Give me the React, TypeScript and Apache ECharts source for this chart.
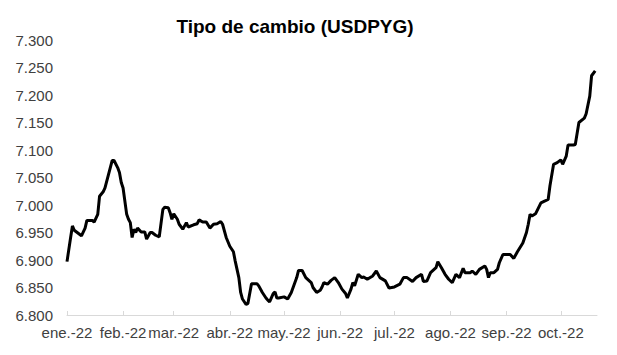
import React, { useEffect, useRef } from "react";
import * as echarts from "echarts";

// Days since 1 Jan 2022 and USD/PYG exchange rate (thousands of guaraníes)
const dayOfYear = [
  0, 2, 3, 4, 6, 8, 10, 11, 14, 15, 17, 18, 20, 21, 23, 25, 26, 28, 29, 30,
  31, 33, 34, 35, 36, 37, 38, 39, 41, 43, 44, 46, 47, 49, 51, 53, 54, 56, 57, 58,
  59, 61, 62, 64, 66, 67, 70, 72, 73, 75, 77, 79, 81, 83, 85, 86, 88, 90, 92, 93,
  95, 96, 97, 99, 100, 102, 105, 106, 108, 110, 111, 112, 114, 115, 116, 117, 120, 122, 124, 126,
  127, 128, 130, 132, 135, 136, 138, 140, 141, 142, 144, 146, 148, 150, 152, 154, 155, 157, 158, 159,
  161, 163, 164, 166, 169, 171, 173, 176, 178, 181, 184, 186, 188, 191, 193, 196, 197, 199, 201, 204,
  205, 207, 209, 211, 213, 215, 217, 219, 220, 223, 224, 226, 228, 231, 232, 233, 234, 236, 238, 239,
  241, 243, 245, 247, 249, 252, 254, 255, 256, 257, 259, 262, 264, 266, 267, 269, 271, 273, 274, 276,
  277, 280, 281, 283, 286, 287, 289, 290, 292,
];

const usdPyg = [
  6.897, 6.941, 6.962, 6.954, 6.949, 6.944, 6.958, 6.972, 6.972, 6.969, 6.983, 7.016, 7.024, 7.031, 7.056, 7.081, 7.081, 7.068, 7.059, 7.041,
  7.031, 6.983, 6.974, 6.968, 6.941, 6.956, 6.95, 6.958, 6.951, 6.951, 6.938, 6.95, 6.95, 6.945, 6.942, 6.992, 6.996, 6.995, 6.986, 6.974,
  6.984, 6.974, 6.965, 6.956, 6.968, 6.96, 6.964, 6.966, 6.973, 6.969, 6.969, 6.958, 6.965, 6.966, 6.97, 6.965, 6.941, 6.925, 6.915, 6.898,
  6.868, 6.841, 6.829, 6.819, 6.821, 6.857, 6.857, 6.853, 6.841, 6.831, 6.827, 6.824, 6.839, 6.842, 6.831, 6.831, 6.833, 6.829, 6.841, 6.859,
  6.868, 6.881, 6.881, 6.868, 6.859, 6.85, 6.841, 6.845, 6.851, 6.859, 6.856, 6.863, 6.868, 6.859, 6.847, 6.839, 6.831, 6.847, 6.859, 6.853,
  6.874, 6.868, 6.869, 6.865, 6.871, 6.88, 6.868, 6.862, 6.849, 6.851, 6.856, 6.868, 6.868, 6.861, 6.868, 6.874, 6.861, 6.862, 6.877, 6.886,
  6.897, 6.886, 6.874, 6.865, 6.859, 6.874, 6.868, 6.885, 6.877, 6.877, 6.88, 6.874, 6.883, 6.889, 6.883, 6.868, 6.877, 6.877, 6.883, 6.895,
  6.91, 6.91, 6.91, 6.903, 6.915, 6.931, 6.95, 6.965, 6.983, 6.98, 6.984, 7.004, 7.007, 7.01, 7.035, 7.074, 7.077, 7.082, 7.074, 7.089,
  7.109, 7.109, 7.11, 7.15, 7.158, 7.166, 7.198, 7.235, 7.244,
];

const monthLabels = [
  "ene.-22", "feb.-22", "mar.-22", "abr.-22", "may.-22",
  "jun.-22", "jul.-22", "ago.-22", "sep.-22", "oct.-22",
];

const DAY_MS = 86400000;
const monthStarts = monthLabels.map(
  (_, m) => (Date.UTC(2022, m, 1) - Date.UTC(2022, 0, 1)) / DAY_MS
);

const FONT = "'Liberation Sans', Arial, sans-serif";

export default function App() {
  const ref = useRef<HTMLDivElement>(null);

  useEffect(() => {
    if (!ref.current) return;
    const chart = echarts.init(ref.current, null, { renderer: "svg" });
    chart.setOption({
      animation: false,
      backgroundColor: "#ffffff",
      title: {
        text: "Tipo de cambio (USDPYG)",
        left: 290,
        top: 12,
        textAlign: "center",
        textStyle: {
          fontFamily: FONT,
          fontSize: 19,
          fontWeight: "bold",
          color: "#000000",
        },
      },
      grid: { left: 67, right: 20, top: 40, bottom: 40, containLabel: false },
      xAxis: {
        type: "value",
        min: 0,
        max: 293,
        splitLine: { show: false },
        axisLine: { show: true, lineStyle: { color: "#d9d9d9", width: 1 } },
        axisTick: {
          show: true,
          inside: true,
          length: 4,
          lineStyle: { color: "#d9d9d9" },
          customValues: monthStarts,
        },
        axisLabel: {
          customValues: monthStarts,
          margin: 10,
          color: "#404040",
          fontFamily: FONT,
          fontSize: 15,
          formatter: (v: number) => {
            const i = monthStarts.indexOf(Math.round(v));
            return i >= 0 ? monthLabels[i] : "";
          },
        },
      },
      yAxis: {
        type: "value",
        min: 6.8,
        max: 7.3,
        interval: 0.05,
        splitLine: { show: false },
        axisLine: { show: false },
        axisTick: { show: false },
        axisLabel: {
          margin: 14,
          color: "#404040",
          fontFamily: FONT,
          fontSize: 15,
          formatter: (v: number) => v.toFixed(3),
        },
      },
      series: [
        {
          type: "line",
          data: dayOfYear.map((d, i) => [d, usdPyg[i]]),
          showSymbol: false,
          symbol: "none",
          lineStyle: { color: "#000000", width: 3 },
          smooth: false,
        },
      ],
    });
    return () => chart.dispose();
  }, []);

  return (
    <div
      ref={ref}
      style={{ position: "fixed", left: 0, top: 0, width: 617, height: 355 }}
    />
  );
}
